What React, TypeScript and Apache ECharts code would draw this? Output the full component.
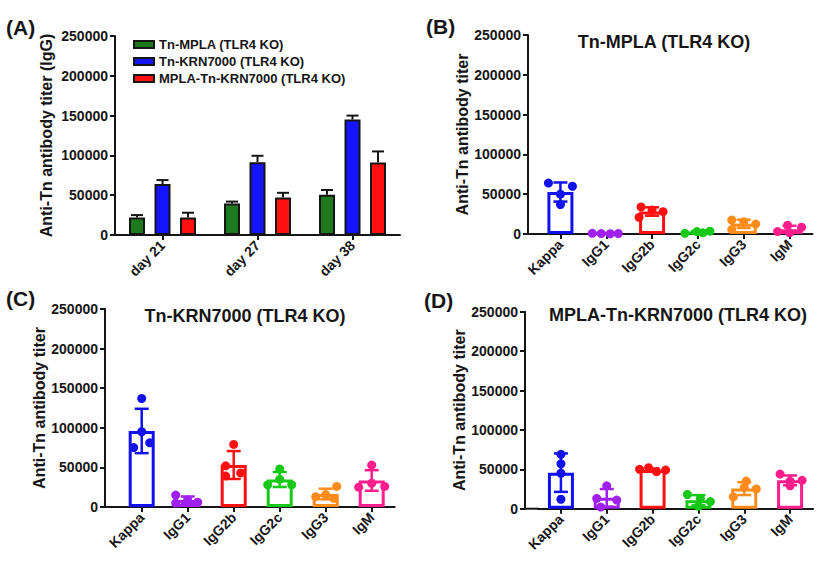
import React, { useEffect, useRef } from 'react';
import * as echarts from 'echarts';

const FONT = 'Arial, "Liberation Sans", Helvetica, sans-serif';
const INK = '#151515';

// ---------- Panel A data (IgG, mean + SEM) ----------
const daysA = ['day 21', 'day 27', 'day 38'];
const groupsA = ['Tn-MPLA (TLR4 KO)', 'Tn-KRN7000 (TLR4 KO)', 'MPLA-Tn-KRN7000 (TLR4 KO)'];
const meanA_MPLA = [22000, 39500, 50500];
const errA_MPLA = [3000, 2500, 6000];
const meanA_KRN = [64000, 91500, 145000];
const errA_KRN = [5000, 8000, 5000];
const meanA_MPLA_KRN = [22000, 47000, 91000];
const errA_MPLA_KRN = [6000, 6000, 14000];

// ---------- Isotype panels (B, C, D): individual mice, mean, SD ----------
const isotypes = ['Kappa', 'IgG1', 'IgG2b', 'IgG2c', 'IgG3', 'IgM'];

const titleB = 'Tn-MPLA (TLR4 KO)';
const pointsB = [
  [64000, 60000, 50000, 37000],
  [800, 500, 300, 600],
  [34000, 30000, 28000, 21000],
  [800, 3000, 3500, 1500],
  [17500, 15500, 12500, 5500],
  [11000, 8500, 3000, 1500],
];
const meanB = [52750, 550, 28250, 2200, 12750, 6000];
const sdB = [12000, 200, 5300, 1300, 5200, 4300];

const titleC = 'Tn-KRN7000 (TLR4 KO)';
const pointsC = [
  [137000, 95000, 75000, 81000],
  [15000, 9000, 5000, 6000],
  [79000, 52000, 39000, 43000],
  [48000, 35000, 28000, 28000],
  [26000, 15500, 13000, 11000],
  [53000, 30000, 25000, 26000],
];
const meanC = [96000, 8750, 53000, 34750, 16400, 33500];
const sdC = [28000, 4500, 17600, 9500, 6700, 13000];

const titleD = 'MPLA-Tn-KRN7000 (TLR4 KO)';
const pointsD = [
  [69000, 57000, 45000, 12000],
  [29000, 13000, 11000, 2000],
  [50000, 52000, 47000, 49000],
  [18000, 13000, 9000, 3000],
  [35000, 27000, 25000, 15000],
  [44000, 36000, 35000, 29000],
];
const meanD = [45750, 13750, 49250, 10750, 25500, 36000];
const sdD = [24400, 11200, 1700, 6500, 8200, 6200];

const yTicks = [0, 50000, 100000, 150000, 200000, 250000];

// ---------- styling (not data) ----------
const colorsA = ['#1f7a1f', '#1414ff', '#ff1010'];
const isoColors = ['#1010f0', '#a020f0', '#ff1010', '#18c818', '#ff8c1a', '#ff1e8c'];
// horizontal spread (px) of the dots, as GraphPad scatters overlapping points
const spreadB = [[-12, 12, 0, 0], [-14, -5, 4, 12], [-11, 0, 11, -13], [-13, -1, 12, 5], [-12, 0, 12, -12], [-2, 12, -12, 0]];
const spreadC = [[0, 0, -8, 8], [-12, 0, -12, 10], [0, -8, -8, 7], [0, 0, -12, 12], [11, 0, -10, 8], [0, 0, -13, 13]];
const spreadD = [[0, 0, 0, 0], [0, -10, 10, -6], [-13, -4, 4, 13], [-11, 2, 12, 0], [2, 0, 12, -11], [-10, 12, 0, 0]];

const gridsGeo = [
  { axisX: 115, left: 115, top: 36, width: 285, height: 199, nameGap: 61, name: 'Anti-Tn antibody titer (IgG)' },
  { axisX: 528, left: 537.5, top: 35, width: 275, height: 199, nameGap: 58, name: 'Anti-Tn antibody titer' },
  { axisX: 105, left: 118.7, top: 309, width: 276, height: 198, nameGap: 56, name: 'Anti-Tn antibody titer' },
  { axisX: 525, left: 538, top: 311.7, width: 275, height: 197, nameGap: 57, name: 'Anti-Tn antibody titer' },
];

const A_BAR_W = 16;
const A_STEP = 25.5;

function buildOption() {
  const grid = gridsGeo.map((g) => ({ left: g.left, top: g.top, width: g.width, height: g.height, containLabel: false }));
  const axisLine = { show: true, lineStyle: { color: INK, width: 2 } };
  const axisTick = { show: true, inside: false, length: 5, lineStyle: { color: INK, width: 2 } };
  const labelStyle = { color: INK, fontFamily: FONT, fontWeight: 'bold' as const, fontSize: 14 };

  const xAxis = gridsGeo.map((g, p) => ({
    type: 'category',
    gridIndex: p,
    data: p === 0 ? daysA : isotypes,
    axisLine,
    axisTick: { ...axisTick, alignWithLabel: true },
    axisLabel: { ...labelStyle, rotate: 45, margin: 8, interval: 0 },
    splitLine: { show: false },
  }));
  const yAxis = gridsGeo.map((g, p) => ({
    type: 'value',
    gridIndex: p,
    min: yTicks[0],
    max: yTicks[yTicks.length - 1],
    interval: yTicks[1] - yTicks[0],
    offset: g.left - g.axisX,
    axisLine,
    axisTick,
    axisLabel: { ...labelStyle, margin: 7, formatter: (v: number) => String(v) },
    splitLine: { show: false },
    name: g.name,
    nameLocation: 'middle',
    nameGap: g.nameGap,
    nameTextStyle: { color: INK, fontFamily: FONT, fontWeight: 'bold', fontSize: 16 },
  }));

  const series: any[] = [];
  const aMeans = [meanA_MPLA, meanA_KRN, meanA_MPLA_KRN];
  const aErrs = [errA_MPLA, errA_KRN, errA_MPLA_KRN];
  aMeans.forEach((m, s) => {
    series.push({
      type: 'bar',
      name: groupsA[s],
      xAxisIndex: 0,
      yAxisIndex: 0,
      data: m,
      barWidth: A_BAR_W,
      barGap: `${((A_STEP - A_BAR_W) / A_BAR_W) * 100}%`,
      itemStyle: { color: colorsA[s], borderColor: INK, borderWidth: 2 },
      silent: true,
      z: 2,
    });
  });
  aMeans.forEach((m, s) => {
    const off = (s - 1) * A_STEP;
    series.push({
      type: 'custom',
      xAxisIndex: 0,
      yAxisIndex: 0,
      silent: true,
      z: 3,
      data: m.map((v, i) => [i, v, aErrs[s][i]]),
      renderItem: (params: any, api: any) => {
        const i = api.value(0);
        const v = api.value(1);
        const e = api.value(2);
        const base = api.coord([i, v]);
        const hi = api.coord([i, v + e]);
        const x = base[0] + off;
        const st = { stroke: INK, lineWidth: 2 };
        return {
          type: 'group',
          children: [
            { type: 'line', shape: { x1: x, y1: base[1], x2: x, y2: hi[1] }, style: st },
            { type: 'line', shape: { x1: x - 6, y1: hi[1], x2: x + 6, y2: hi[1] }, style: st },
          ],
        };
      },
    });
  });

  const iso = [
    { means: meanB, sds: sdB, pts: pointsB, spread: spreadB },
    { means: meanC, sds: sdC, pts: pointsC, spread: spreadC },
    { means: meanD, sds: sdD, pts: pointsD, spread: spreadD },
  ];
  iso.forEach((panel, k) => {
    const p = k + 1;
    series.push({
      type: 'bar',
      xAxisIndex: p,
      yAxisIndex: p,
      barWidth: 26,
      silent: true,
      z: 2,
      itemStyle: { color: 'rgba(255,255,255,0)', borderWidth: 3 },
      data: panel.means.map((v, i) => ({ value: v, itemStyle: { borderColor: isoColors[i] } })),
    });
    series.push({
      type: 'custom',
      xAxisIndex: p,
      yAxisIndex: p,
      silent: true,
      z: 3,
      data: panel.means.map((v, i) => [i, v, panel.sds[i]]),
      renderItem: (params: any, api: any) => {
        const i = api.value(0);
        const v = api.value(1);
        const e = api.value(2);
        const hi = api.coord([i, v + e]);
        const lo = api.coord([i, Math.max(0, v - e)]);
        const x = hi[0];
        const st = { stroke: isoColors[i], lineWidth: 2.5 };
        return {
          type: 'group',
          children: [
            { type: 'line', shape: { x1: x, y1: lo[1], x2: x, y2: hi[1] }, style: st },
            { type: 'line', shape: { x1: x - 7, y1: hi[1], x2: x + 7, y2: hi[1] }, style: st },
            { type: 'line', shape: { x1: x - 7, y1: lo[1], x2: x + 7, y2: lo[1] }, style: st },
          ],
        };
      },
    });
    const dots: any[] = [];
    panel.pts.forEach((arr, i) =>
      arr.forEach((v, j) =>
        dots.push({ value: [i, v], symbolOffset: [panel.spread[i][j], 0], itemStyle: { color: isoColors[i], opacity: 1 } })
      )
    );
    series.push({
      type: 'scatter',
      xAxisIndex: p,
      yAxisIndex: p,
      silent: true,
      z: 4,
      symbol: 'circle',
      symbolSize: 9,
      itemStyle: { opacity: 1 },
      data: dots,
    });
  });

  const textStyle = (size: number) => ({ fill: INK, font: `bold ${size}px ${FONT}` });
  const graphic: any[] = [
    { type: 'text', left: 6, top: 17, style: { text: '(A)', ...textStyle(21) } },
    { type: 'text', left: 426, top: 16, style: { text: '(B)', ...textStyle(21) } },
    { type: 'text', left: 6, top: 288, style: { text: '(C)', ...textStyle(21) } },
    { type: 'text', left: 424, top: 290, style: { text: '(D)', ...textStyle(21) } },
    { type: 'text', x: 664, y: 42, style: { text: titleB, ...textStyle(18), textAlign: 'center', textVerticalAlign: 'middle' } },
    { type: 'text', x: 245, y: 316, style: { text: titleC, ...textStyle(18), textAlign: 'center', textVerticalAlign: 'middle' } },
    { type: 'text', x: 678, y: 315, style: { text: titleD, ...textStyle(18), textAlign: 'center', textVerticalAlign: 'middle' } },
  ];
  gridsGeo.slice(1).forEach((g) => {
    const y = g.top + g.height;
    graphic.push({
      type: 'line',
      silent: true,
      shape: { x1: g.axisX - 1, y1: y, x2: g.left + 1, y2: y },
      style: { stroke: INK, lineWidth: 2 },
    });
  });

  return {
    animation: false,
    backgroundColor: '#ffffff',
    textStyle: { fontFamily: FONT },
    grid,
    xAxis,
    yAxis,
    legend: {
      data: groupsA,
      orient: 'vertical',
      left: 128,
      top: 33,
      itemWidth: 20,
      itemHeight: 7,
      itemGap: 4,
      selectedMode: false,
      icon: 'rect',
      itemStyle: { borderColor: INK, borderWidth: 2 },
      textStyle: { color: INK, fontFamily: FONT, fontWeight: 'bold', fontSize: 13, padding: [0, 0, 0, 0] },
    },
    series,
    graphic,
  };
}

export default function App() {
  const ref = useRef<HTMLDivElement>(null);
  useEffect(() => {
    if (!ref.current) return;
    const chart = echarts.init(ref.current, undefined, { renderer: 'svg' });
    chart.setOption(buildOption() as any);
    return () => chart.dispose();
  }, []);
  return (
    <div
      ref={ref}
      style={{ position: 'absolute', left: 0, top: 0, width: 827, height: 567, background: '#fff' }}
    />
  );
}
